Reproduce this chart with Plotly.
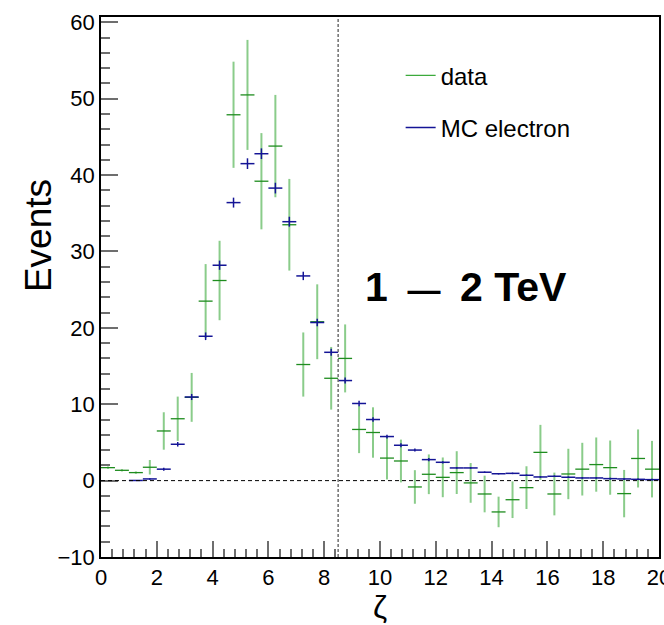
import plotly.graph_objects as go

# ---- data ----
bin_lo = [0.5 * i for i in range(40)]
bin_width = 0.5
bin_centers = [b + bin_width / 2 for b in bin_lo]

data_vals = [1.7, 1.35, 1.05, 1.75, 6.5, 8.1, 10.9, 23.5, 26.2, 47.9,
             50.5, 39.2, 43.8, 33.5, 15.2, 20.8, 13.4, 16.0, 6.7, 6.3,
             2.95, 2.57, -0.83, 0.83, 0.43, 1.05, -0.3, -1.75, -4.1, -2.5,
             -0.92, 3.7, -1.75, 0.87, 1.5, 2.1, 1.7, -1.7, 2.9, 1.5]
data_errs = [0.15, 0.15, 0.15, 0.95, 2.45, 2.9, 3.2, 4.85, 5.2, 6.95,
             7.2, 6.3, 6.7, 6.0, 4.2, 4.9, 4.1, 4.45, 3.1, 3.3,
             2.8, 2.8, 2.2, 2.6, 2.6, 2.8, 2.6, 2.4, 2.0, 2.4,
             2.8, 3.6, 2.8, 3.3, 3.45, 3.55, 3.55, 3.1, 3.8, 3.7]

mc_vals = [None, None, 0.02, 0.22, 1.5, 4.76, 10.95, 18.9, 28.2, 36.4,
           41.5, 42.8, 38.3, 33.9, 26.8, 20.7, 16.8, 13.1, 10.1, 8.0,
           5.77, 4.63, 4.0, 2.75, 2.4, 1.66, 1.66, 1.1, 0.9, 0.95,
           0.7, 0.48, 0.57, 0.44, 0.35, 0.35, 0.26, 0.22, 0.17, 0.13]
mc_errs = [0, 0, 0.02, 0.1, 0.2, 0.3, 0.4, 0.5, 0.6, 0.65,
           0.7, 0.7, 0.7, 0.65, 0.55, 0.5, 0.45, 0.4, 0.35, 0.3,
           0.25, 0.25, 0.2, 0.2, 0.15, 0.1, 0.1, 0.1, 0.1, 0.1,
           0.1, 0.1, 0.1, 0.1, 0.1, 0.1, 0.1, 0.1, 0.1, 0.1]

cut_value = 8.5
x_range = [0, 20]
y_range = [-10, 60.7]
energy_label = "1 \u2009<span style='font-size:33px'>—</span>\u2009 2 TeV"

FONT = "Liberation Sans, Arial, Helvetica, sans-serif"
GREEN_V = "rgba(60,170,60,0.6)"
GREEN_H = "rgb(30,140,30)"
BLUE = "rgb(20,20,150)"

fig = go.Figure()

fig.add_trace(go.Scatter(
    x=bin_centers, y=data_vals, mode="markers", showlegend=False,
    marker=dict(size=1, color="rgba(0,0,0,0)"),
    error_y=dict(type="data", array=data_errs, width=0, thickness=2, color=GREEN_V),
    error_x=dict(type="constant", value=bin_width / 2, width=0, thickness=1.3, color=GREEN_H),
    hoverinfo="skip",
))
fig.add_trace(go.Scatter(
    x=bin_centers, y=mc_vals, mode="markers", showlegend=False,
    marker=dict(size=1, color="rgba(0,0,0,0)"),
    error_y=dict(type="data", array=mc_errs, width=0, thickness=1.5, color=BLUE),
    error_x=dict(type="constant", value=bin_width / 2, width=0, thickness=1.5, color=BLUE),
    hoverinfo="skip",
))

# legend entries
fig.add_trace(go.Scatter(x=[None], y=[None], mode="lines", name="data",
                         line=dict(color="rgb(60,170,60)", width=1.3), legendgroup="a"))
fig.add_trace(go.Scatter(x=[None], y=[None], mode="lines", name="MC electron",
                         line=dict(color=BLUE, width=1.3), legendgroup="b"))

# reference lines
fig.add_shape(type="line", xref="x", yref="paper", x0=cut_value, x1=cut_value, y0=0, y1=1,
              line=dict(color="rgb(110,110,110)", width=1.5, dash="3px,2px"))
fig.add_shape(type="line", xref="paper", yref="y", x0=0, x1=1, y0=0, y1=0,
              line=dict(color="black", width=1, dash="4px,3px"))

fig.add_annotation(x=9.4, y=25.3, xref="x", yref="y", text="<b>" + energy_label + "</b>",
                   showarrow=False, xanchor="left", yanchor="middle",
                   font=dict(family=FONT, size=41, color="black"))

# y-axis title (placed as in the reference, above axis centre)
fig.add_annotation(x=-0.113, y=0.596, xref="paper", yref="paper", text="Events",
                   textangle=-90, showarrow=False, xanchor="center", yanchor="middle",
                   font=dict(family=FONT, size=37, color="black"))

fig.update_layout(
    width=664, height=625,
    margin=dict(l=101, r=5, t=17, b=68),
    paper_bgcolor="white", plot_bgcolor="white",
    font=dict(family=FONT, size=22, color="black"),
    showlegend=True,
    legend=dict(x=0.537, y=0.933, xanchor="left", yanchor="top",
                font=dict(family=FONT, size=24), tracegroupgap=18,
                traceorder="grouped", bgcolor="rgba(0,0,0,0)"),
    xaxis=dict(range=x_range, dtick=2, tick0=0, ticks="inside", ticklen=16,
               tickcolor="rgb(110,110,110)", tickwidth=1.5,
               ticklabeloverflow="allow", automargin=False,
               showline=True, linecolor="black", linewidth=1.5, mirror=True,
               showgrid=False, zeroline=False,
               minor=dict(dtick=0.4, ticks="inside", ticklen=8, tickcolor="rgb(110,110,110)",
                          tickwidth=1.5, showgrid=False),
               title=dict(text="ζ", font=dict(size=32), standoff=8)),
    yaxis=dict(range=y_range, dtick=10, tick0=0, ticks="inside", ticklen=17,
               tickcolor="rgb(110,110,110)", tickwidth=1.5,
               ticklabeloverflow="allow", automargin=False,
               showline=True, linecolor="black", linewidth=1.5, mirror=True,
               showgrid=False, zeroline=False,
               minor=dict(dtick=2, ticks="inside", ticklen=9, tickcolor="rgb(110,110,110)",
                          tickwidth=1.5, showgrid=False)),
)

fig.write_html("out.html")
